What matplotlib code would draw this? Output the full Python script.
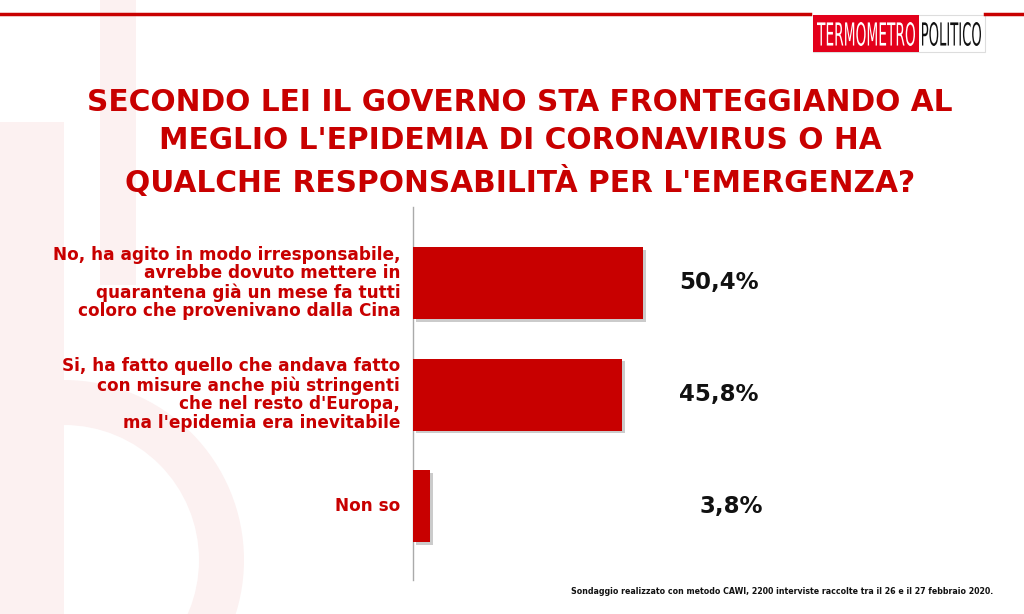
import matplotlib.pyplot as plt
import matplotlib.patches as mpatches
import matplotlib.patheffects as pe
from matplotlib.textpath import TextPath
from matplotlib.font_manager import FontProperties
from matplotlib.transforms import Affine2D

plt.rcParams["font.family"] = ["DejaVu Sans"]

categories = [
    "No, ha agito in modo irresponsabile,\navrebbe dovuto mettere in\nquarantena già un mese fa tutti\ncoloro che provenivano dalla Cina",
    "Si, ha fatto quello che andava fatto\ncon misure anche più stringenti\nche nel resto d'Europa,\nma l'epidemia era inevitabile",
    "Non so",
]
values = [50.4, 45.8, 3.8]
value_labels = ["50,4%", "45,8%", "3,8%"]

title = ("SECONDO LEI IL GOVERNO STA FRONTEGGIANDO AL\n"
         "MEGLIO L'EPIDEMIA DI CORONAVIRUS O HA\n"
         "QUALCHE RESPONSABILITÀ PER L'EMERGENZA?")
footnote = "Sondaggio realizzato con metodo CAWI, 2200 interviste raccolte tra il 26 e il 27 febbraio 2020."

RED = "#c80000"
W, H = 1024, 614

fig = plt.figure(figsize=(10.24, 6.14), dpi=100)

# faint watermark in the background
bg = fig.add_axes([0, 0, 1, 1], zorder=-5)
bg.set_xlim(0, W)
bg.set_ylim(H, 0)
bg.axis("off")
wm = "#fcf1f1"
bg.add_patch(mpatches.Rectangle((100, 0), 36, 285, color=wm, lw=0))
bg.add_patch(mpatches.Rectangle((0, 122), 64, 492, color=wm, lw=0))
bg.add_patch(mpatches.Wedge((64, 560), 180, 270, 90, width=45, color=wm, lw=0))

# top rule and logo
bg.plot([0, 810], [14, 14], color=RED, lw=2.5)
bg.plot([985, 1024], [14, 14], color=RED, lw=2.5)
bg.add_patch(mpatches.Rectangle((813, 15), 172, 37, facecolor="white", edgecolor="#dddddd", lw=0.8))
bg.add_patch(mpatches.Rectangle((813, 15), 106, 37, color="#e3001b", lw=0))


def logo_word(word, x0, x1, y_top, y_bot, color):
    tp = TextPath((0, 0), word, size=10, prop=FontProperties(family="DejaVu Sans"))
    ext = tp.get_extents()
    sx = (x1 - x0) / ext.width
    sy = (y_bot - y_top) / ext.height
    tr = Affine2D().translate(-ext.x0, -ext.y0).scale(sx, -sy).translate(x0, y_bot)
    bg.add_patch(mpatches.PathPatch(tr.transform_path(tp), color=color, lw=0))


logo_word("TERMOMETRO", 817, 915, 22, 46, "white")
logo_word("POLITICO", 922, 981, 22, 46, "#111111")

fig.text(0.508, 1 - 143 / H, title, color=RED, fontsize=21.3, fontweight="bold",
         ha="center", va="center", linespacing=1.42)
fig.text(993 / W, 1 - 591 / H, footnote, fontsize=5.7, fontweight="bold",
         ha="right", va="center", color="#111111")

ax = fig.add_axes([413 / W, 1 - 580 / H, (1000 - 413) / W, (580 - 207) / H])
ax.set_facecolor("none")
ypos = list(range(len(values)))
bars = ax.barh(ypos, values, height=0.645, color=RED, zorder=3)
for b in bars:
    b.set_path_effects([pe.SimplePatchShadow(offset=(2, -2), shadow_rgbFace="#999999", alpha=0.5),
                        pe.Normal()])
ax.set_xlim(0, (1000 - 413) / 4.56)
ax.set_ylim(2.66, -0.68)

label_x = [58.3, 58.3, 62.8]
for y, lab, lx in zip(ypos, value_labels, label_x):
    ax.text(lx, y, lab, fontsize=16.5, fontweight="bold", color="#111111", va="center", ha="left")

for y, cat in zip(ypos, categories):
    ax.text(-2.8, y, cat, fontsize=12.2, fontweight="bold", color=RED, ha="right", va="center",
            multialignment="right", linespacing=1.05)

for s in ["top", "right", "bottom"]:
    ax.spines[s].set_visible(False)
ax.spines["left"].set_color("#aaaaaa")
ax.spines["left"].set_linewidth(1)
ax.set_xticks([])
ax.set_yticks([])

fig.savefig("out.png", dpi=100)
